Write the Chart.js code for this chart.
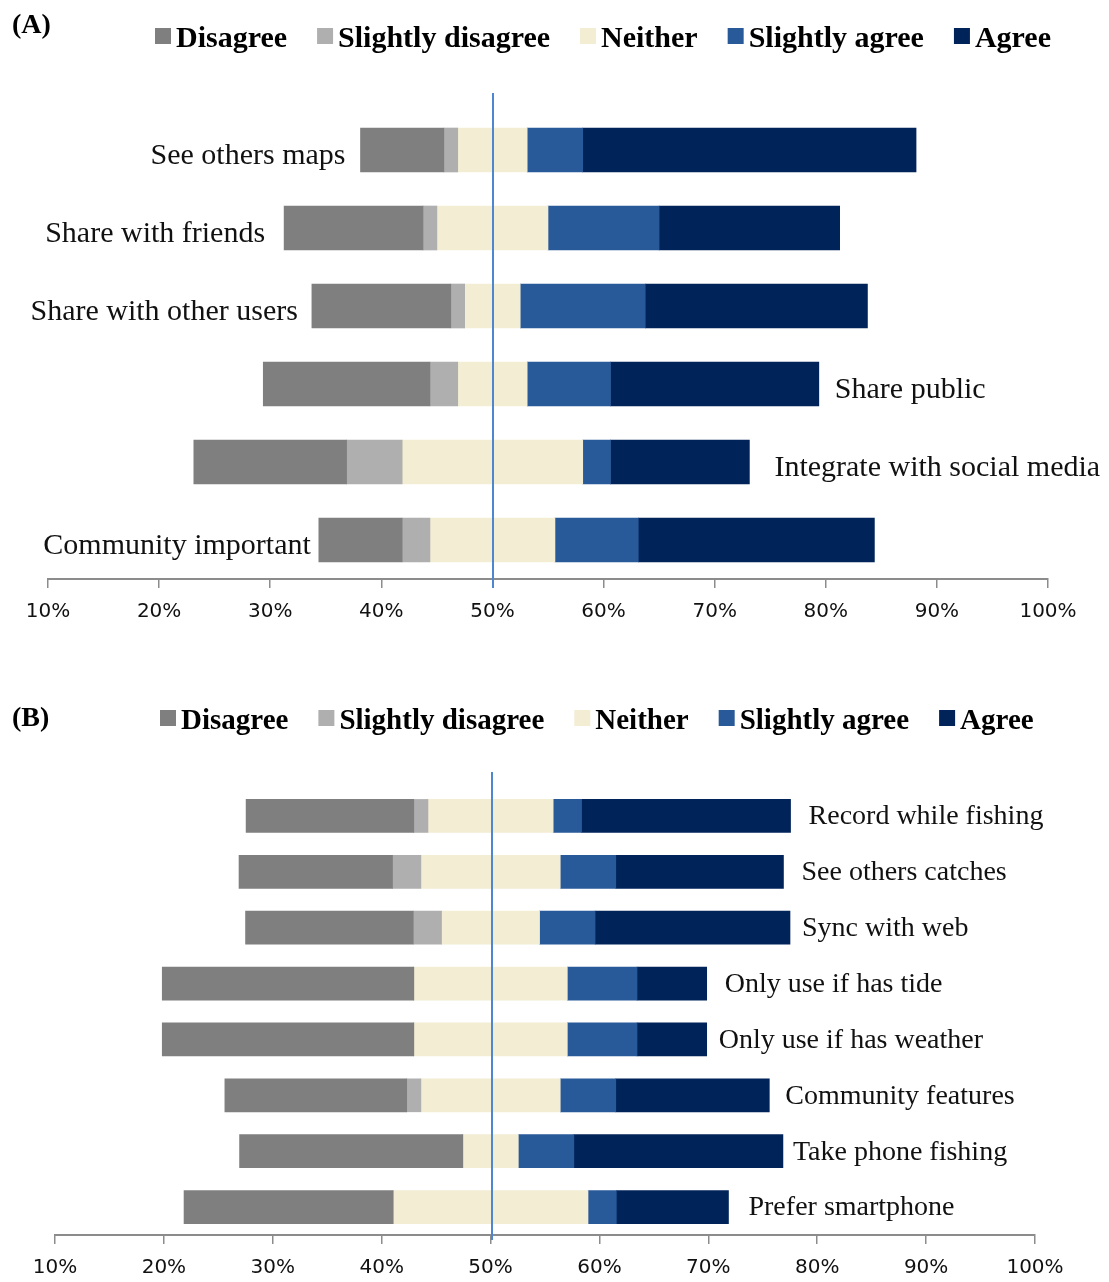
<!DOCTYPE html>
<html>
<head>
<meta charset="utf-8">
<script src="https://cdn.jsdelivr.net/npm/chart.js@4.4.0/dist/chart.umd.min.js"></script>
<style>
    html, body { margin: 0; background: #fff; overflow: hidden; }
    .panel { position: absolute; left: 0; width: 1109px; }
</style>
</head>
<body>
<div class="panel" style="top:0;height:650px"><canvas id="chartA" width="1109" height="650"></canvas></div>
<div class="panel" style="top:650px;height:644px"><canvas id="chartB" width="1109" height="644"></canvas></div>
<script>
// answer categories, shared by both panels
const responses = ['Disagree', 'Slightly disagree', 'Neither', 'Slightly agree', 'Agree'];
const tickLabels = ['10%', '20%', '30%', '40%', '50%', '60%', '70%', '80%', '90%', '100%'];

// panel A - segment lengths in axis units
const categoriesA = ['See others maps', 'Share with friends', 'Share with other users',
    'Share public', 'Integrate with social media', 'Community important'];
const disagreeA = [7.5, 12.5, 12.5, 15, 13.75, 7.5];
const slightlyDisagreeA = [1.25, 1.25, 1.25, 2.5, 5, 2.5];
const neitherA = [6.25, 10, 5, 6.25, 16.25, 11.25];
const slightlyAgreeA = [5, 10, 11.25, 7.5, 2.5, 7.5];
const agreeA = [30, 16.25, 20, 18.75, 12.5, 21.25];

// panel B
const categoriesB = ['Record while fishing', 'See others catches', 'Sync with web',
    'Only use if has tide', 'Only use if has weather', 'Community features',
    'Take phone fishing', 'Prefer smartphone'];
const disagreeB = [15.4, 14.1, 15.4, 23.1, 23.1, 16.7, 20.5, 19.2];
const slightlyDisagreeB = [1.3, 2.6, 2.6, 0, 0, 1.3, 0, 0];
const neitherB = [11.5, 12.8, 9.0, 14.1, 14.1, 12.8, 5.1, 17.9];
const slightlyAgreeB = [2.6, 5.1, 5.1, 6.4, 6.4, 5.1, 5.1, 2.6];
const agreeB = [19.2, 15.4, 17.9, 6.4, 6.4, 14.1, 19.2, 10.3];

const colors = ['#7f7f7f', '#afafaf', '#f2edd3', '#285a99', '#00235a'];
const serif = '"Liberation Serif", "DejaVu Serif", serif';

// bars are centred on the middle of the "Neither" segment at 50%
function buildRanges(series) {
    const n = series[0].length;
    const out = series.map(() => []);
    for (let i = 0; i < n; i++) {
        let pos = 50 - series[0][i] - series[1][i] - series[2][i] / 2;
        series.forEach((s, k) => {
            out[k].push([pos, pos + s[i]]);
            pos += s[i];
        });
    }
    return out;
}

const panelDecor = {
    id: 'panelDecor',
    afterDatasetsDraw(chart, args, o) {
        const ctx = chart.ctx;
        const xs = chart.scales.x, ys = chart.scales.y;
        const sets = chart.data.datasets;
        ctx.save();

        // row labels beside the bars
        ctx.fillStyle = '#111';
        ctx.font = o.labelSize + 'px ' + serif;
        ctx.textBaseline = 'middle';
        chart.data.labels.forEach((lab, i) => {
            const yy = ys.getPixelForValue(i) + o.labelDy;
            if (o.sides[i] === 'left') {
                ctx.textAlign = 'right';
                ctx.fillText(lab, xs.getPixelForValue(sets[0].data[i][0]) - o.gaps[i], yy);
            } else {
                ctx.textAlign = 'left';
                ctx.fillText(lab, xs.getPixelForValue(sets[sets.length - 1].data[i][1]) + o.gaps[i], yy);
            }
        });

        // 50% reference line
        const x50 = Math.round(xs.getPixelForValue(50)) + 1;
        ctx.strokeStyle = '#4f86d0';
        ctx.lineWidth = 2;
        ctx.beginPath();
        ctx.moveTo(x50, o.lineTop);
        ctx.lineTo(x50, o.lineBottom);
        ctx.stroke();

        // panel letter
        ctx.fillStyle = '#000';
        ctx.textAlign = 'left';
        ctx.textBaseline = 'alphabetic';
        ctx.font = 'bold 28px ' + serif;
        ctx.fillText(o.title, 12, o.titleY);

        // legend
        ctx.font = 'bold ' + o.legendSize + 'px ' + serif;
        let lx = o.legendX;
        sets.forEach(ds => {
            ctx.fillStyle = ds.backgroundColor;
            ctx.fillRect(lx, o.legendY - 19, 16, 16);
            ctx.fillStyle = '#000';
            ctx.fillText(ds.label, lx + 21, o.legendY);
            lx += 21 + ctx.measureText(ds.label).width + 30;
        });
        ctx.restore();
    }
};

function makeChart(id, categories, series, cfg) {
    const ranges = buildRanges(series);
    return new Chart(document.getElementById(id), {
        type: 'bar',
        data: {
            labels: categories,
            datasets: responses.map((r, k) => ({
                label: r,
                data: ranges[k],
                backgroundColor: colors[k],
                borderWidth: 0,
                barThickness: cfg.thickness,
                grouped: false
            }))
        },
        options: {
            indexAxis: 'y',
            responsive: false,
            animation: false,
            devicePixelRatio: 1,
            layout: { padding: cfg.padding },
            plugins: {
                legend: { display: false },
                tooltip: { enabled: false },
                panelDecor: cfg.decor
            },
            scales: {
                x: {
                    min: 10,
                    max: 100,
                    ticks: {
                        stepSize: 10,
                        color: '#111',
                        padding: 12,
                        maxRotation: 0,
                        font: { family: 'DejaVu Sans', size: 20 },
                        callback: (v, i) => tickLabels[i]
                    },
                    grid: { drawOnChartArea: false, tickLength: 9, color: '#8c8c8c', lineWidth: 1.5 },
                    border: { color: '#8c8c8c', width: 2 }
                },
                y: { display: false }
            }
        },
        plugins: [panelDecor]
    });
}

makeChart('chartA', categoriesA,
    [disagreeA, slightlyDisagreeA, neitherA, slightlyAgreeA, agreeA], {
        thickness: 44,
        padding: { left: 48, right: 61, top: 111, bottom: 14 },
        decor: {
            title: '(A)', titleY: 33,
            legendX: 155, legendY: 47, legendSize: 30,
            labelSize: 30, labelDy: 6,
            sides: ['left', 'left', 'left', 'right', 'right', 'left'],
            gaps: [15, 19, 14, 16, 25, 8],
            lineTop: 93, lineBottom: 588
        }
    });

makeChart('chartB', categoriesB,
    [disagreeB, slightlyDisagreeB, neitherB, slightlyAgreeB, agreeB], {
        thickness: 33,
        padding: { left: 55, right: 74, top: 138, bottom: 2 },
        decor: {
            title: '(B)', titleY: 76,
            legendX: 160, legendY: 79, legendSize: 29,
            labelSize: 28, labelDy: 1,
            sides: ['right', 'right', 'right', 'right', 'right', 'right', 'right', 'right'],
            gaps: [18, 18, 12, 18, 12, 16, 10, 20],
            lineTop: 122, lineBottom: 590
        }
    });
</script>
</body>
</html>
